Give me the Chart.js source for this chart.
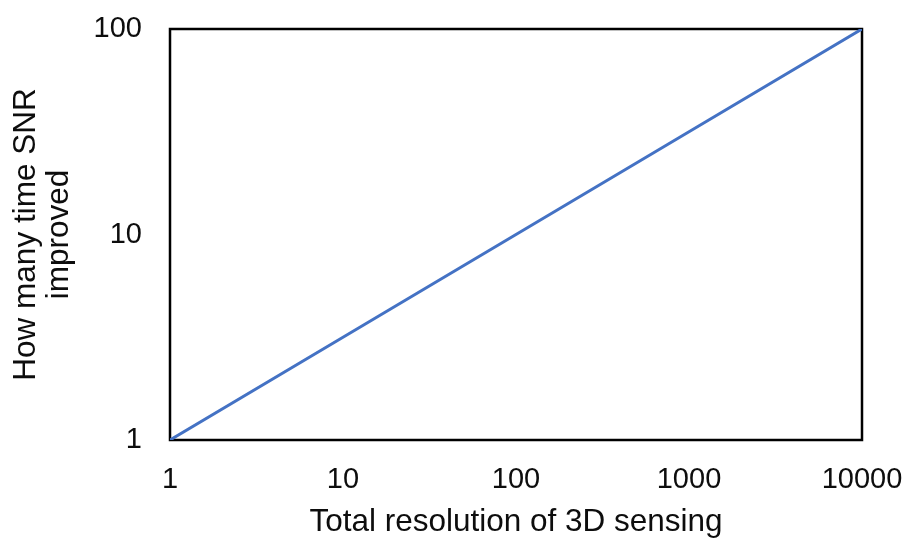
<!DOCTYPE html>
<html>
<head>
<meta charset="utf-8">
<script src="https://cdn.jsdelivr.net/npm/chart.js@4/dist/chart.umd.min.js"></script>
<style>
  html, body { margin: 0; padding: 0; background: #ffffff; }
  #wrap { width: 911px; height: 541px; }
</style>
</head>
<body>
<div id="wrap"><canvas id="chart"></canvas></div>
<script>
// Resolution vs. SNR gain, both on log axes
const resolution = [1, 10, 100, 1000, 10000];
const snrGain = [1, 3.16, 10, 31.6, 100];
const xTicks = [1, 10, 100, 1000, 10000];
const yTicks = [1, 10, 100];

const FONT = 'Arial, "Liberation Sans", sans-serif';
const TEXT = '#0d0d0d';

// box round the plot area
const frame = {
  id: 'frame',
  beforeDatasetsDraw(chart) {
    const { ctx, chartArea: a } = chart;
    ctx.save();
    ctx.strokeStyle = '#000000';
    ctx.lineWidth = 2.5;
    ctx.strokeRect(a.left, a.top, a.right - a.left, a.bottom - a.top);
    ctx.restore();
  }
};

// fixed axis sizes; labels may hang past the plot edges without shrinking it
function fixSize(size) {
  return (s) => {
    if (s.isHorizontal()) s.height = size; else s.width = size;
    s.paddingTop = s.paddingBottom = s.paddingLeft = s.paddingRight = 0;
  };
}

new Chart(document.getElementById('chart'), {
  type: 'line',
  data: {
    datasets: [{
      data: resolution.map((x, i) => ({ x, y: snrGain[i] })),
      borderColor: '#4472C4',
      borderWidth: 3,
      pointRadius: 0,
      tension: 0,
      fill: false,
    }],
  },
  options: {
    responsive: true,
    maintainAspectRatio: false,
    animation: false,
    layout: { padding: { top: 29, right: 49, left: 0, bottom: 0 } },
    plugins: { legend: { display: false }, tooltip: { enabled: false } },
    scales: {
      x: {
        type: 'logarithmic',
        min: 1,
        max: 10000,
        grid: { display: false, drawTicks: false },
        border: { display: false },
        afterBuildTicks: (s) => { s.ticks = xTicks.map(v => ({ value: v })); },
        afterFit: fixSize(101),
        ticks: {
          color: TEXT,
          padding: 23,
          maxRotation: 0,
          autoSkip: false,
          font: { family: FONT, size: 29 },
          callback: (v) => String(v),
        },
        title: {
          display: true,
          text: 'Total resolution of 3D sensing',
          color: TEXT,
          font: { family: FONT, size: 31.5, lineHeight: '33px' },
          padding: { top: 0, bottom: 2.5 },
        },
      },
      y: {
        type: 'logarithmic',
        min: 1,
        max: 100,
        grid: { display: false, drawTicks: false },
        border: { display: false },
        afterBuildTicks: (s) => { s.ticks = yTicks.map(v => ({ value: v })); },
        afterFit: fixSize(170),
        ticks: {
          color: TEXT,
          padding: 28,
          autoSkip: false,
          font: { family: FONT, size: 29 },
          callback: (v) => String(v),
        },
        title: {
          display: true,
          text: ['How many time SNR', 'improved'],
          color: TEXT,
          font: { family: FONT, size: 31.5, lineHeight: '33px' },
          padding: { top: 9.5, bottom: 0 },
        },
      },
    },
  },
  plugins: [frame],
});
</script>
</body>
</html>
